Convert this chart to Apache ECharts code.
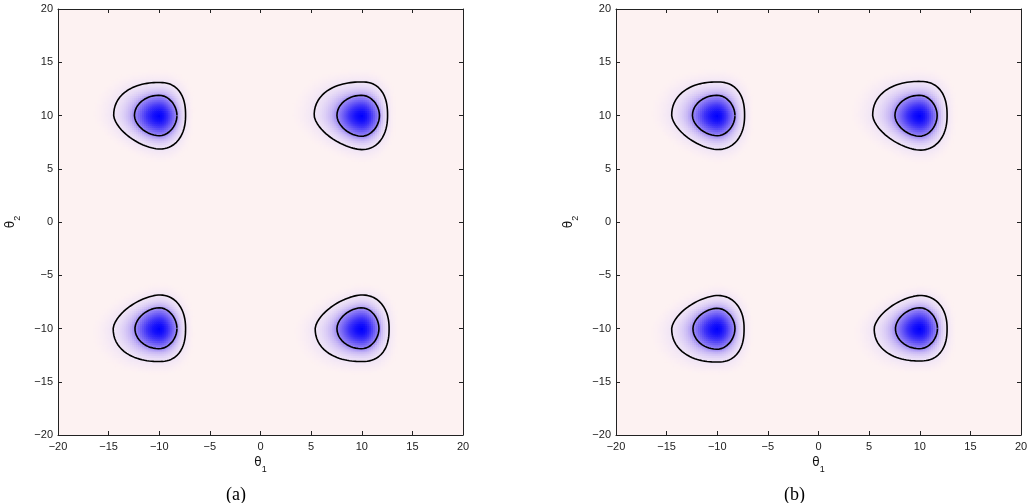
<!DOCTYPE html>
<html><head><meta charset="utf-8">
<script src="https://cdn.jsdelivr.net/npm/echarts@6/dist/echarts.min.js"></script>
<style>html,body{margin:0;padding:0;background:#fff}#c{width:1031px;height:503px}</style>
</head><body><div id="c"></div>
<script>
// ---- data ----
const axisMin = -20, axisMax = 20, tickStep = 5;
const panelLabels = ['(a)', '(b)'];
const xName = 'θ', xSub = '1', yName = 'θ', ySub = '2';
const modeCentersA = [[-10, 10], [10, 10], [-10, -10], [10, -10]];
const modeCentersB = [[-10, 10], [10, 10], [-10, -10], [10, -10]];
const modeFlip = [1, 1, -1, -1];
// contour extents from the mode centre: [left, right, flat side, slanted side]
const outerA = [[4.5, 2.6, 3.1, 3.15], [4.7, 2.55, 3.15, 3.2], [4.55, 2.6, 3.1, 3.15], [4.6, 2.7, 3.1, 3.15]];
const innerA = [[2.45, 1.75, 1.9, 1.9], [2.45, 1.75, 1.9, 1.95], [2.4, 1.75, 1.9, 1.95], [2.45, 1.7, 1.9, 1.95]];
const outerB = [[4.5, 2.7, 3.15, 3.2], [4.65, 2.7, 3.2, 3.25], [4.5, 2.65, 3.15, 3.1], [4.5, 2.7, 3.05, 3.1]];
const innerB = [[2.45, 1.75, 1.9, 1.9], [2.45, 1.72, 1.9, 1.95], [2.4, 1.75, 1.95, 1.9], [2.4, 1.75, 1.9, 1.95]];
// quadrant roundness [flat-left, flat-right, slant-left, slant-right]
const outerShape = [2.2, 2.4, 1.6, 2.2];
const innerShape = [2.0, 1.9, 1.8, 1.9];
const levelColors = ['#fdf2f2', '#fcf0f3', '#f9edf4', '#f5e9f5', '#f0e5f6', '#e9ddf6', '#dccef6',
  '#c8b8f5', '#a08ef4', '#7060f5', '#3c30f8', '#1510fc', '#0000ff'];
const cellStep = 0.2;

// ---- build density grid & contours ----
function shapeRadius(ext, shp, c, s) {
  const left = c < 0, flat = s > 0;
  const a = left ? ext[0] : ext[1];
  const b = flat ? ext[2] : ext[3];
  const p = shp[(flat ? 0 : 2) + (left ? 0 : 1)];
  const ac = Math.abs(c), as = Math.abs(s);
  return 1 / Math.pow(Math.pow(ac / a, p) + Math.pow(as / b, p), 1 / p);
}
function buildGrid(centers, outer, inner) {
  const out = [];
  centers.forEach((cen, k) => {
    const f = modeFlip[k];
    for (let i = -36; i <= 21; i++) {
      for (let j = -26; j <= 26; j++) {
        const dx = i * cellStep, dyF = j * cellStep * f;
        const r = Math.hypot(dx, dyF);
        let rho = 0;
        if (r > 1e-9) {
          const c = dx / r, s = dyF / r;
          const rI = shapeRadius(inner[k], innerShape, c, s);
          const rO = shapeRadius(outer[k], outerShape, c, s);
          rho = r <= rI ? r / rI : 1 + (r - rI) / (rO - rI);
        }
        const v = 3 - rho;
        if (v > 0) out.push([+(cen[0] + i * cellStep).toFixed(2), +(cen[1] + j * cellStep).toFixed(2), v]);
      }
    }
  });
  return out;
}
function contour(cen, ext, shp, f) {
  const pts = [];
  const n = 180;
  for (let t = 0; t <= n; t++) {
    const th = t / n * 2 * Math.PI;
    const c = Math.cos(th), s = Math.sin(th);
    const R = shapeRadius(ext, shp, c, s);
    pts.push([cen[0] + R * c, cen[1] + f * R * s]);
  }
  return pts;
}

const chart = echarts.init(document.getElementById('c'), null, {renderer: 'canvas'});
const gridsPos = [{left: 58, top: 9, width: 405, height: 426}, {left: 616, top: 9, width: 405, height: 426}];
const axisColor = '#222';
const minus = v => String(v).replace('-', '\u2212');
const nameRich = {
  t: {fontSize: 12, fontFamily: 'DejaVu Sans', color: '#111', lineHeight: 17, verticalAlign: 'top'},
  s: {fontSize: 9, fontFamily: 'Liberation Sans', color: '#111', lineHeight: 17, verticalAlign: 'bottom'}
};
function axisBase(pos, gridIndex, showLabel) {
  return {
    type: 'value', gridIndex, position: pos, min: axisMin, max: axisMax, interval: tickStep,
    axisLine: {show: true, onZero: false, lineStyle: {color: axisColor, width: 1}},
    axisTick: {show: true, inside: true, length: 4, lineStyle: {color: axisColor}},
    splitLine: {show: false},
    axisLabel: {show: showLabel, formatter: minus, fontFamily: 'Liberation Sans', fontSize: 11, color: '#222',
      margin: pos === 'bottom' ? 6 : 5}
  };
}
const xAxes = [], yAxes = [];
[0, 1].forEach(g => {
  xAxes.push(Object.assign(axisBase('bottom', g, true), {
    name: '{t|' + xName + '}{s|' + xSub + '}', nameLocation: 'middle', nameGap: 12,
    nameTextStyle: {rich: nameRich}
  }));
  xAxes.push(axisBase('top', g, false));
  yAxes.push(Object.assign(axisBase('left', g, true), {
    name: '{t|' + yName + '}{s|' + ySub + '}', nameLocation: 'middle', nameGap: 36,
    nameTextStyle: {rich: nameRich}
  }));
  yAxes.push(axisBase('right', g, false));
});

const series = [];
[[modeCentersA, outerA, innerA], [modeCentersB, outerB, innerB]].forEach((p, g) => {
  series.push({
    type: 'custom', xAxisIndex: g * 2, yAxisIndex: g * 2, clip: true, progressive: 0,
    data: buildGrid(p[0], p[1], p[2]),
    encode: {x: 0, y: 1},
    renderItem: (params, api) => {
      const pt = api.coord([api.value(0) - cellStep / 2, api.value(1) + cellStep / 2]);
      const sz = api.size([cellStep, cellStep]);
      return {type: 'rect', shape: {x: pt[0], y: pt[1], width: sz[0] + 0.7, height: sz[1] + 0.7},
        style: {fill: api.visual('color')}};
    }
  });
});
[[modeCentersA, outerA, innerA], [modeCentersB, outerB, innerB]].forEach((p, g) => {
  p[0].forEach((cen, k) => {
    [[p[1][k], outerShape], [p[2][k], innerShape]].forEach(es => {
      series.push({
        type: 'line', xAxisIndex: g * 2, yAxisIndex: g * 2, symbol: 'none', z: 5,
        data: contour(cen, es[0], es[1], modeFlip[k]),
        lineStyle: {color: '#000', width: 1.6}
      });
    });
  });
});

chart.setOption({
  animation: false,
  backgroundColor: '#fff',
  title: panelLabels.map((t, g) => ({
    text: t, left: 221 + g * 558, top: 481,
    textStyle: {fontFamily: 'Liberation Serif', fontSize: 18, fontWeight: 'normal', color: '#000'}
  })),
  grid: gridsPos.map(p => Object.assign({show: true, backgroundColor: levelColors[0], borderWidth: 0}, p)),
  xAxis: xAxes, yAxis: yAxes,
  visualMap: {type: 'continuous', show: false, min: 0, max: 3, dimension: 2, seriesIndex: [0, 1],
    inRange: {color: levelColors}},
  series
});
</script></body></html>
